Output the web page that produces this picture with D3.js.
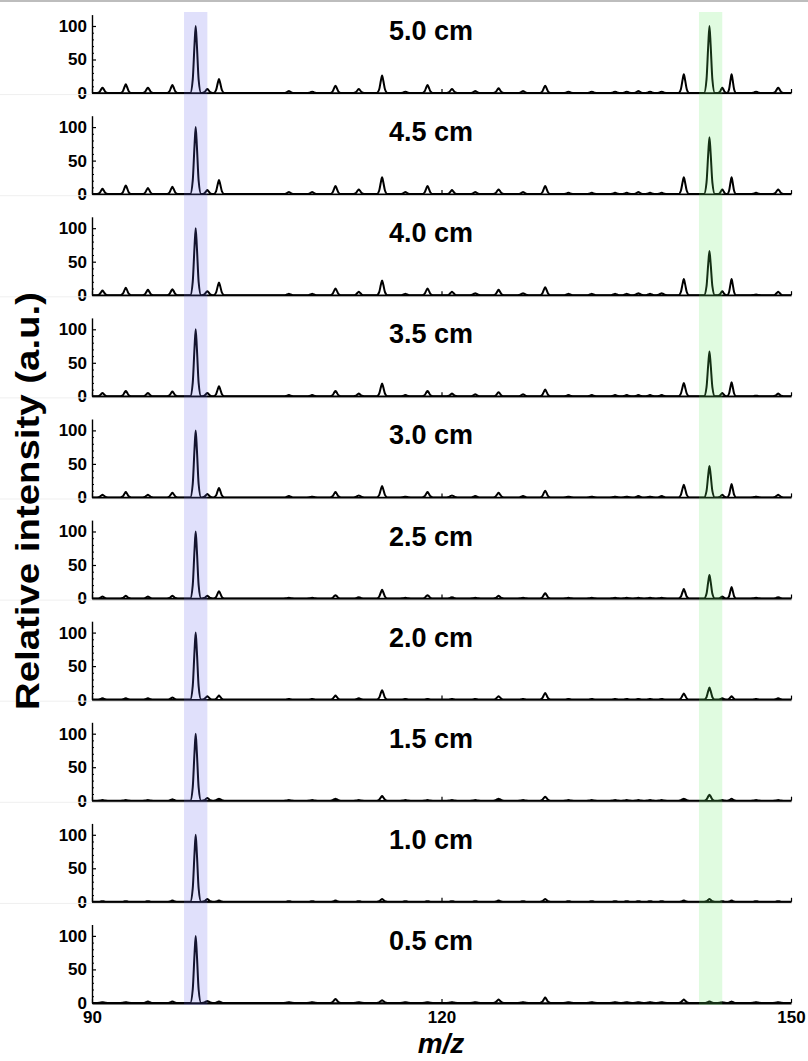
<!DOCTYPE html>
<html>
<head>
<meta charset="utf-8">
<script src="https://d3js.org/d3.v7.min.js"></script>
<style>
  body { margin: 0; background: #fff; }
  svg text { font-family: "Liberation Sans", Arial, sans-serif; font-weight: bold; fill: #000; }
</style>
</head>
<body>
<div id="chart"></div>
<script>
// peak positions (m/z)
var mz = [90.9, 92.9, 94.8, 96.9, 98.9, 99.9, 100.9, 106.9, 108.9, 110.9, 112.9, 114.9, 116.9, 118.8,
          120.9, 122.9, 124.9, 127.0, 128.9, 130.9, 132.9, 134.9, 135.9, 136.9, 137.9, 138.9,
          140.8, 143.0, 144.1, 144.9, 147.0, 148.9];

// panel labels, top to bottom
var distances = ["5.0 cm", "4.5 cm", "4.0 cm", "3.5 cm", "3.0 cm", "2.5 cm", "2.0 cm", "1.5 cm", "1.0 cm", "0.5 cm"];

// relative intensities of each peak, one array per panel
var int50 = [8, 13, 8, 12, 100, 6, 21, 3, 2, 11, 6, 26, 2, 12, 6, 3, 7, 3, 11, 2, 2, 2, 2, 3, 2, 2, 28, 100, 8, 28, 2, 8];
var int45 = [8, 13, 9, 11, 100, 6, 21, 3, 3, 12, 7, 25, 3, 12, 6, 3, 7, 3, 12, 2, 2, 2, 2, 3, 2, 2, 25, 85, 7, 25, 2, 7];
var int40 = [7, 11, 8, 9, 100, 6, 19, 2, 2, 10, 5, 22, 2, 10, 5, 3, 8, 3, 12, 2, 2, 2, 2, 3, 2, 3, 24, 66, 6, 24, 1, 5];
var int35 = [5, 8, 5, 7, 100, 5, 15, 2, 2, 8, 4, 19, 2, 8, 4, 3, 6, 3, 10, 2, 2, 2, 2, 2, 2, 2, 20, 67, 5, 21, 1, 4];
var int30 = [4, 8, 4, 7, 100, 5, 14, 2, 1, 8, 3, 17, 1, 8, 3, 2, 7, 2, 10, 1, 1, 1, 1, 2, 1, 2, 19, 47, 4, 20, 1, 4];
var int25 = [3, 4, 3, 4, 100, 4, 11, 1, 1, 5, 2, 13, 1, 5, 2, 1, 4, 1, 8, 1, 1, 1, 1, 1, 1, 1, 14, 35, 3, 17, 1, 2];
var int20 = [2, 2, 2, 3, 100, 5, 6, 1, 1, 6, 2, 14, 1, 1, 1, 1, 5, 1, 10, 1, 1, 1, 1, 1, 1, 1, 9, 18, 2, 5, 1, 2];
var int15 = [1, 1, 1, 2, 100, 4, 3, 1, 1, 3, 1, 7, 1, 1, 1, 1, 3, 1, 6, 1, 1, 1, 1, 1, 1, 1, 3, 9, 1, 3, 1, 1];
var int10 = [1, 1, 1, 2, 100, 4, 2, 1, 1, 2, 1, 4, 1, 1, 1, 1, 2, 1, 4, 1, 1, 1, 1, 1, 1, 1, 2, 4, 1, 2, 1, 1];
var int05 = [1, 1, 2, 2, 100, 3, 2, 1, 1, 6, 1, 4, 1, 1, 1, 1, 5, 1, 8, 1, 1, 1, 1, 1, 1, 1, 5, 2, 1, 2, 1, 1];
var series = [int50, int45, int40, int35, int30, int25, int20, int15, int10, int05];

// highlighted m/z windows
var blueBand = [97.9, 99.9];
var greenBand = [142.1, 144.1];

var xTicks = [90, 120, 150];
var yTicks = [0, 50, 100];
var yMinor = [10, 20, 30, 40, 60, 70, 80, 90];

var width = 808, height = 1061;
var svg = d3.select("#chart").append("svg")
    .attr("width", width)
    .attr("height", height);

svg.append("rect").attr("width", width).attr("height", height).attr("fill", "#fff");

var x = d3.scaleLinear().domain([90, 150]).range([92, 791]);
var firstBase = 93, step = 101.1;

// shape of one peak: offset as a fraction of the half width, and fraction of the peak height
var peakShape = [[-1, 0], [-0.55, 0.2], [-0.22, 0.72], [0, 1], [0.22, 0.72], [0.55, 0.2], [1, 0]];
var maxHalfWidth = 0.46;

// light frame line at the very top
svg.append("line")
    .attr("x1", 0).attr("x2", width)
    .attr("y1", 1).attr("y2", 1)
    .attr("stroke", "#bdbdbd").attr("stroke-width", 2);

series.forEach(function (vals, i) {
    var base = firstBase + step * i;
    var y = d3.scaleLinear().domain([0, 117]).range([base, base - 78.4]);
    var g = svg.append("g");

    if (i > 0) {
        g.append("line")
            .attr("x1", 0).attr("x2", 792)
            .attr("y1", base - 99.5).attr("y2", base - 99.5)
            .attr("stroke", "#efefef").attr("stroke-width", 1);
    }

    // spectrum line
    var pts = [[90, 0]];
    mz.forEach(function (m, j) {
        var gapL = j > 0 ? m - mz[j - 1] : 1;
        var gapR = j < mz.length - 1 ? mz[j + 1] - m : 1;
        var hw = Math.min(maxHalfWidth, gapL / 2 - 0.01, gapR / 2 - 0.01);
        peakShape.forEach(function (s) { pts.push([m + s[0] * hw, vals[j] * s[1]]); });
    });
    pts.push([150, 0]);

    g.append("path")
        .datum(pts)
        .attr("fill", "none")
        .attr("stroke", "#000")
        .attr("stroke-width", 2)
        .attr("stroke-linejoin", "round")
        .attr("d", d3.line()
            .x(function (d) { return x(d[0]); })
            .y(function (d) { return y(d[1]); })
            .curve(d3.curveMonotoneX));

    // x axis (baseline)
    var last = i === series.length - 1;
    var xAxis = g.append("g")
        .attr("transform", "translate(0," + base + ")")
        .call(d3.axisBottom(x)
            .tickValues(xTicks)
            .tickSizeInner(-4)
            .tickSizeOuter(0)
            .tickPadding(8)
            .tickFormat(last ? d3.format("d") : function () { return ""; }));
    xAxis.select(".domain").attr("stroke-width", 2.4);
    xAxis.selectAll(".tick line").attr("stroke-width", 1.2);
    xAxis.selectAll("text").style("font-size", "17px");

    // y axis
    var yAxis = g.append("g")
        .attr("transform", "translate(" + x(90) + ",0)")
        .call(d3.axisLeft(y)
            .tickValues(yTicks)
            .tickSizeInner(-4)
            .tickSizeOuter(0)
            .tickPadding(5));
    yAxis.select(".domain").attr("stroke-width", 1.4);
    yAxis.selectAll(".tick line").attr("stroke-width", 1.2);
    yAxis.selectAll("text").style("font-size", "17px");

    g.append("g")
        .attr("transform", "translate(" + x(90) + ",0)")
        .call(d3.axisLeft(y).tickValues(yMinor).tickSizeInner(-2).tickSizeOuter(0).tickFormat(""))
        .select(".domain").remove();

    // panel label
    g.append("text")
        .attr("x", 431)
        .attr("y", base - 53)
        .attr("text-anchor", "middle")
        .style("font-size", "27px")
        .text(distances[i]);
});

// translucent highlight bands over the spectra
svg.append("rect")
    .attr("x", x(blueBand[0]))
    .attr("width", x(blueBand[1]) - x(blueBand[0]))
    .attr("y", 12).attr("height", 993)
    .attr("fill", "rgb(100,100,235)").attr("opacity", 0.2);

svg.append("rect")
    .attr("x", x(greenBand[0]))
    .attr("width", x(greenBand[1]) - x(greenBand[0]))
    .attr("y", 12).attr("height", 993)
    .attr("fill", "rgb(100,235,100)").attr("opacity", 0.2);

// axis titles
svg.append("text")
    .attr("transform", "translate(39,501) rotate(-90)")
    .attr("text-anchor", "middle")
    .attr("textLength", 418)
    .attr("lengthAdjust", "spacingAndGlyphs")
    .style("font-size", "33px")
    .text("Relative intensity (a.u.)");

svg.append("text")
    .attr("x", 441)
    .attr("y", 1053)
    .attr("text-anchor", "middle")
    .style("font-size", "28px")
    .style("font-style", "italic")
    .text("m/z");
</script>
</body>
</html>
